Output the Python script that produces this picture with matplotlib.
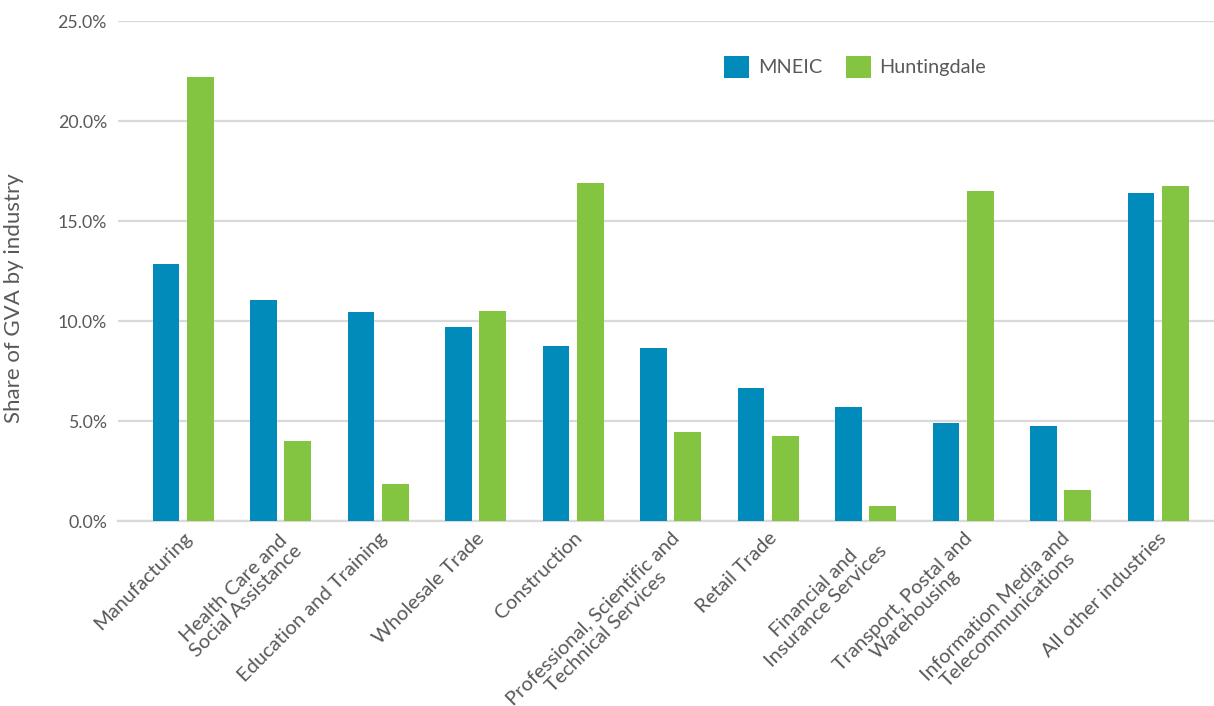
import matplotlib
matplotlib.use("Agg")
import matplotlib.pyplot as plt
from matplotlib.ticker import FuncFormatter
import numpy as np

industries = [
    "Manufacturing",
    "Health Care and\nSocial Assistance",
    "Education and Training",
    "Wholesale Trade",
    "Construction",
    "Professional, Scientific and\nTechnical Services",
    "Retail Trade",
    "Financial and\nInsurance Services",
    "Transport, Postal and\nWarehousing",
    "Information Media and\nTelecommunications",
    "All other industries",
]
mneic = [12.86, 11.05, 10.46, 9.71, 8.75, 8.65, 6.65, 5.70, 4.91, 4.75, 16.41]
huntingdale = [22.2, 3.99, 1.84, 10.51, 16.92, 4.45, 4.25, 0.74, 16.51, 1.54, 16.77]

blue = "#008bba"
green = "#83c441"
text_col = "#595959"
grid_col = "#d9d9d9"

plt.rcParams['font.family'] = ['Lato', 'DejaVu Sans']

fig = plt.figure(figsize=(12.14, 7.06), dpi=100)
ax = fig.add_axes([118/1214, 1-521/706, 1-118/1214, 500/706])

x = np.arange(len(industries))
w = 0.275
off = 0.175
ax.bar(x - off, mneic, w, color=blue, label="MNEIC", zorder=3)
ax.bar(x + off, huntingdale, w, color=green, label="Huntingdale", zorder=3)

ax.set_xlim(-0.667, 10.574)
ax.set_ylim(0, 25)
ax.set_yticks(np.arange(0, 25.1, 5))
ax.yaxis.set_major_formatter(FuncFormatter(lambda v, p: f"{v:.1f}%"))
ax.grid(axis='y', color=grid_col, linewidth=1.6, zorder=0)
for s in ['top', 'right', 'left']:
    ax.spines[s].set_visible(False)
ax.spines['bottom'].set_color(grid_col)
ax.spines['bottom'].set_linewidth(1.6)
ax.tick_params(axis='both', length=0, colors=text_col)
ax.tick_params(axis='y', pad=8, labelsize=12.8)

ax.set_xticks(x)
ax.set_xticklabels(industries, rotation=45, ha='right', rotation_mode='anchor',
                   multialignment='center', fontsize=14.5, linespacing=1.1)
ax.tick_params(axis='x', pad=6)

ax.set_ylabel("Share of GVA by industry", color=text_col, fontsize=16)
ax.yaxis.set_label_coords(-0.086, 0.446)

leg = ax.legend(loc='upper left', bbox_to_anchor=(0.5365, 0.966), ncol=2, frameon=False,
                fontsize=14.3, handlelength=1.25, handleheight=1.3, handletextpad=0.45,
                columnspacing=1.2, labelcolor=text_col)

fig.savefig("out.png", dpi=100)
